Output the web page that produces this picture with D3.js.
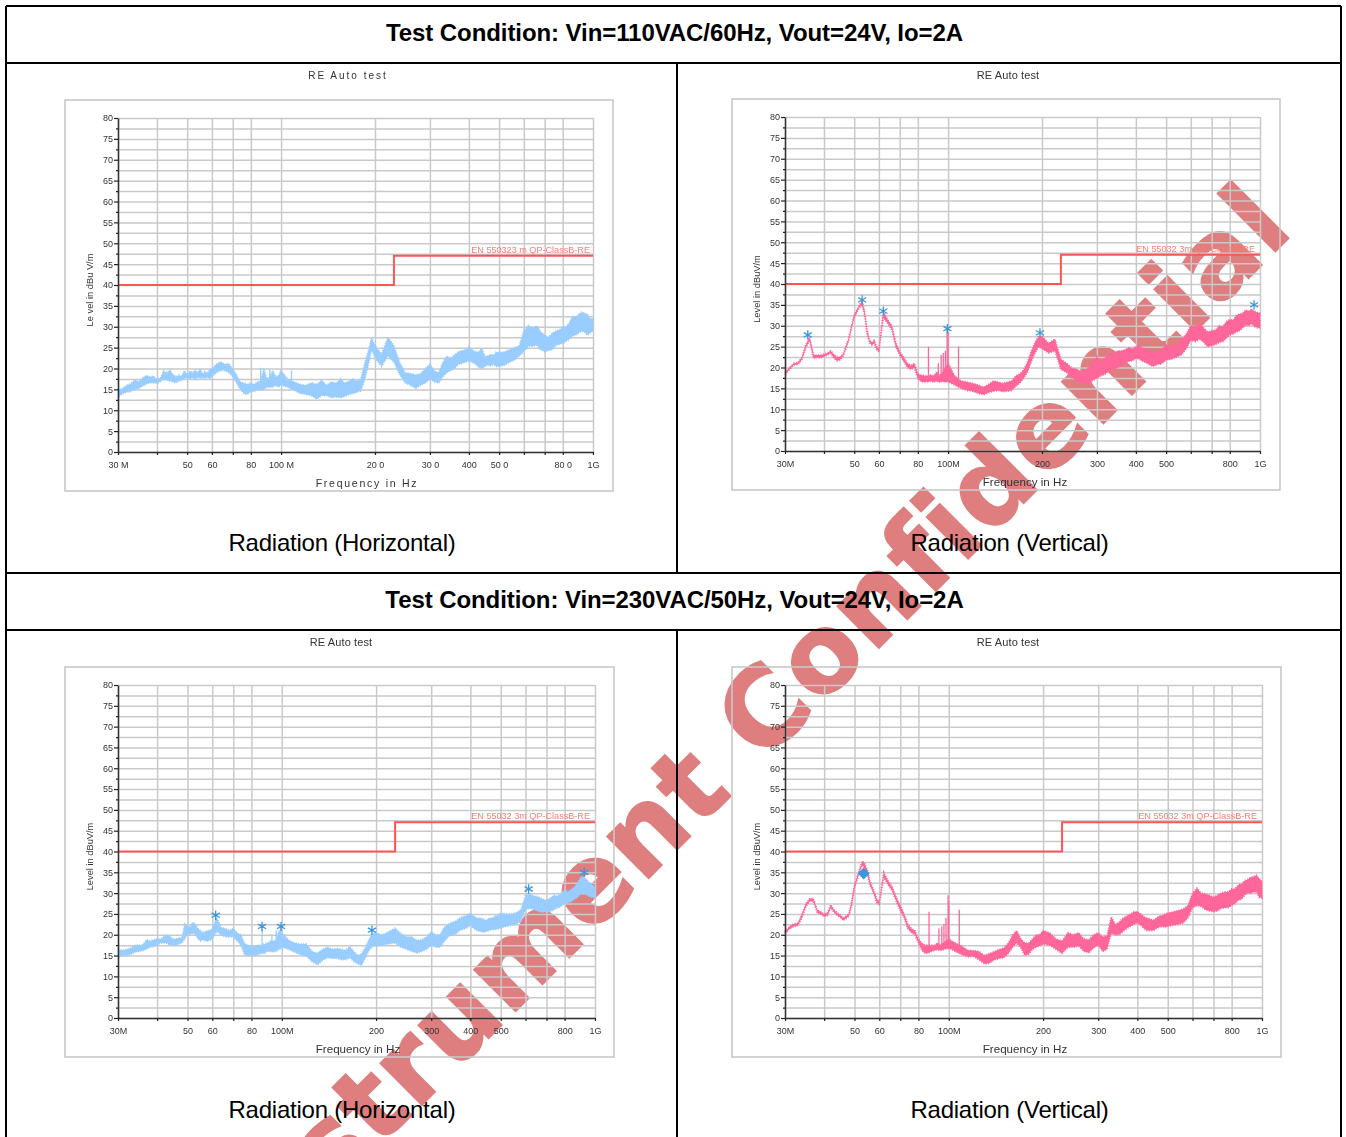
<!DOCTYPE html>
<html>
<head>
<meta charset="utf-8">
<script src="https://d3js.org/d3.v7.min.js"></script>
<style>
  html, body {margin: 0; padding: 0; background: #fff;}
  svg {display: block;}
  text {font-family: "Liberation Sans", Arial, sans-serif;}
  .heading {font-size: 24px; font-weight: bold; letter-spacing: -0.08px; text-anchor: middle;}
  .caption {font-size: 24px; letter-spacing: -0.23px; text-anchor: middle;}
  .watermark {font-family: "DejaVu Sans"; font-size: 108px; font-weight: bold; letter-spacing: 1.2px; fill: #de7e7e; stroke: #de7e7e; stroke-width: 1.5px; text-anchor: end;}
  .axis text {font-size: 9px; fill: #333;}
  .axis .domain {stroke: #333; stroke-width: 1.5;}
  .axis line {stroke: #222; stroke-width: 1.2;}
  .grid .domain {display: none;}
  .grid line {stroke: #c9c9c9; stroke-width: 1.5;}
  .panel {filter: blur(0.3px);}
</style>
</head>
<body>
<svg id="chart" width="1346" height="1137"></svg>

<script>
// frequency grid shared by the four sweeps (MHz)
var freq = [
  30,31,32,33,34,35,36,37,38,39,40,41,42,43,44,45,46,47,48,49,50,51,52,53,54,55,56,57,58,59,60,
  62,64,66,68,70,72,74,76,78,80,82,84,86,88,90,92,94,96,98,
  100,105,110,115,120,125,130,135,140,145,150,155,160,165,170,175,180,185,190,195,
  200,210,220,230,240,250,260,270,280,290,300,310,320,330,340,350,360,370,380,390,400,410,420,430,440,450,460,470,480,490,
  500,520,540,560,580,600,620,640,660,680,700,720,740,760,780,800,820,840,860,880,900,920,940,960,980,1000
];

// Vin=110VAC horizontal
var h110Hi = [
  15,15.2,16,16.4,17.3,16.8,17.8,18.3,18,18.2,17.4,17.8,19.4,19,19.6,18.6,18,18.4,18.2,19.5,18.5,19.4,19,19.6,19,20,18.7,19.3,18.8,19.8,20,
  21,21.6,21,21.2,19.8,18.5,16.8,16.5,16.2,16.6,16.2,16.8,17,20,17.5,18,19.5,18,18.2,
  19.5,17.5,16.8,16.2,16,16.6,16.2,17.2,16,16.8,16.5,17.5,16.5,17,17.5,17,17.5,21,24,27.5,
  25.5,23.5,27.5,25.5,21.5,19,18.8,18.5,18.8,20,21,19.5,19,21.5,23,22.5,23.3,24,24.3,24.5,25.2,24.5,24,24,24.8,23,23,23.4,23.2,24,
  23.8,24,24.5,25,25.5,29,30.3,29.8,30.2,28.8,28,27.5,28.5,29,29.3,30,30,31,32.5,32.3,33,33.5,33.3,33,32,32
];
var h110Lo = [
  13,14,14.3,14.5,15,15.2,15.8,16.3,16.6,16.5,16.5,16.8,17.4,17.2,17,16.8,16.6,17,17.2,17.6,17.8,17.5,17.8,17.4,17.9,17.6,17.8,17.6,17.9,17.5,18,
  19,19.5,19.5,19,18,16.5,15,14,13.8,14.5,14.5,15,14.8,15,15.5,15.5,15.5,16,15.5,
  16,15.5,14.8,14,13.8,13.5,12.7,13.5,13.5,13,13.2,13,13.3,13.8,14,14.3,14.6,17,20.5,24.5,
  22.5,20.5,23,21.5,18.5,16.5,16,15.2,16,16.5,17.5,16.8,16.5,18,19,19.5,20,21,21.2,21.5,21.8,21.5,21,20.3,20,20.5,20.8,20.6,21,20.5,
  20.5,20.8,21.5,22,23,24,25.3,25.3,25.6,24.5,24,24.3,24.5,25.5,25.8,26,26.5,27,27.8,28,28.5,29,28.7,28,28.5,29
];

// Vin=110VAC vertical
var v110Hi = [
  18.8,20,21,21.2,22.5,25.5,27.2,23,23,23,23.2,23.5,24,23.2,22.5,22.5,23.2,25,27,30,32.5,33.8,35,36,33.5,29,26.5,26,26.5,25,24.3,
  33.5,31.5,30,26,23.8,22.5,21,20.5,21,18.5,18.2,18,18,18.2,18,19,18,19,20,
  21,18,16.8,16.5,16.2,15.8,15.3,16,16.8,16.5,16.2,16.5,16.8,18,18.5,19.5,21.5,24,26,27.5,
  27.5,25.8,26.8,22,21,19.8,19.5,18.8,19.8,20.8,22.6,21,22.5,23.4,23,24,24,24.3,24.8,24.5,25,25.3,24.6,24.5,24.2,23.5,23.5,24,24,24.8,
  25.4,25,25.5,26.5,28,30,29.8,30.5,29.5,28.5,28.8,29,30,29.8,31,31.5,31.3,32.5,32.8,33,33.8,33.5,34,33.5,33.2,33
];
var v110Lo = [
  18.2,19.5,20.6,20.7,21.9,24.8,26.5,22.2,22.4,22.3,22.6,23,23.4,22.3,21.6,21.8,22.6,24.4,26.4,29.4,31.9,33.2,34.4,35,32.5,28,25.9,25.4,25.8,24.3,23.7,
  32,30.6,29,25,23,21.5,20,19.5,20,17.3,16.6,16.5,16.6,16.7,16.5,16.7,16.5,16.7,16.7,
  16.5,15.8,15,14.5,14.3,13.8,13.5,14,14.3,14.5,14.2,14.3,14.5,15.5,16.3,17.5,19,21.5,23.5,25,
  24.5,23.5,24,19.5,18.8,17.5,16.8,16,16.2,16.8,17.5,18,18.5,19.4,19.5,20,20.6,21,21.5,21.6,22.2,22,21.5,21.2,20.8,20.3,20.4,20.8,20.8,21.2,
  21.8,22,22.5,23,24.5,26.5,26.2,26.8,26,25,25.2,25.5,26,26.2,27,27.8,28,28.5,28.8,29.5,30.2,30,30.5,29.8,29.5,29.5
];

// Vin=230VAC horizontal
var h230Hi = [
  16.5,16.3,16.5,16.8,17.5,17.5,17.6,18.8,18.5,18.8,19,19,19.5,20,19.6,19,19,19.3,19.2,22.5,22,21.8,23,22.5,21.5,21,20.5,20.8,21,21,21.5,
  24.2,21.8,21.5,21,21.5,20.5,20,18,17.5,17.3,17.2,17.5,17.5,17.8,18,18.5,18.5,18.8,21,
  20.5,18.8,18,17.8,17.8,16,15.6,16.5,17,16.5,16.7,16.5,16.3,17.2,16,15,15.5,17,19,20.3,
  20.5,20,20.8,21.6,20.3,19.5,19.5,18.7,18.8,19.5,20.7,20,20,21.8,22.5,23,23.3,24,24.4,24.6,25.2,24.5,24,24,23.8,23.5,24,24,24.5,24.6,
  25.2,25,25,25.3,26,29.5,29.8,29.3,29.1,28.6,28.3,28.8,29.5,29.3,30,30.8,30.3,31,31.5,32.5,33.8,34,33.3,32.5,32,31.5
];
var h230Lo = [
  14.5,15,15,15.3,15.8,16,16.2,16.5,17,17.2,17.5,18,18,18,17.5,17.6,17.5,17.8,18,19,20.2,20,20.5,20,19,18.5,18.8,18.5,18.5,18.6,19,
  20.8,20,19.5,19.5,19.5,18.5,17.5,15.2,15,15,15,15.2,15.5,15.5,16,16,15.8,16,16.5,
  17,16.5,15.8,15.2,14.8,13.5,12.8,13.8,14.5,14.3,14.3,14,14,14.5,13.5,13,12.7,14.5,16.2,17.2,
  17.3,17.5,17.8,18,17,16.5,16,15.6,16,16.5,17.5,17,17,18.3,19.5,20,20.2,21,21.3,21.6,22.3,21.5,21,20.8,20.6,20.8,21,21.2,21.2,21.4,
  21.6,22,22.2,22.6,23.2,26,26.3,26,25.6,25.4,25.5,25.5,26,26.5,26.8,27.6,27.6,28,28.5,29,29.8,30,29.6,29.2,29,28.8
];

// Vin=230VAC vertical
var v230Hi = [
  20.8,22,22.6,22.8,25,27.5,28.7,28.7,26,25.5,25,25.3,27.2,26,25.3,24.8,24,24.5,25,28,32,34,36,37.7,37,35.5,33,31.5,30,28.5,28,
  35,33,31.5,29,27,25,22.5,21.5,21,19,18,17.5,17.5,17.5,17.5,18,17.5,18,18.5,
  19,18,17.3,16.3,16.2,16,15,15.5,16,16.5,16.8,18,20,21,19,18,18,19,20,20,
  21,20.5,19,18.5,20.5,20,20.5,19,18.8,20,20.5,19.5,19.7,24.3,22.5,23,24,24.5,25,25.5,25.5,25,24.3,24,23.8,23.5,24,24.5,24.6,25,
  25.2,25.5,25.8,26.2,27,30,31.2,30,29.8,29.5,29,29.5,30,30.3,30.3,31,31,32,32.2,33,33.3,33.8,34,34.3,33.5,32.8
];
var v230Lo = [
  20.2,21.4,22,22.2,24.2,26.8,28.1,28,25.3,24.9,24.4,24.6,26.5,25.4,24.7,24.2,23.4,23.9,24.5,27.2,31.3,33.3,35.3,36.8,35.8,34.4,32,30.7,29.2,27.6,27.3,
  33.8,32,30.6,28,25.8,24,21.5,20.5,20,18,16.3,15.5,15.6,16,16.2,16.4,16.2,16.4,16.7,
  16.8,16,15.2,14.7,14.8,14,13,13.2,14,14.3,14.5,15.5,17,18,16.8,15,15.3,16.5,17,17.3,
  17.8,17.5,16.5,15.5,17,17,17.3,16,15.7,16.8,17.5,16,16.5,20.3,20,20,20.8,21.5,22,22.5,22.8,22.3,21.5,21,21,21,21.5,21.8,22,21.8,
  22,22.3,22.5,22.8,24,26.5,27,26.8,26,25.7,25.5,25.7,26.3,26.5,26.5,27,27.5,28.3,28.5,29.5,30,30,30.3,30.3,29,28.8
];

// narrow spikes above the sweep
var h110SpikeF = [86, 92, 108], h110SpikeL = [20.2, 19.8, 19.5];
var v110SpikeF = [86.5, 93, 95, 96.5, 98, 99.3, 100, 108], v110SpikeL = [25, 21, 23, 23.5, 24, 29, 28.5, 25];
var h230SpikeF = [86.5, 93, 96, 99], h230SpikeL = [21.5, 20, 21, 22];
var v230SpikeF = [86.5, 93, 95, 96.5, 98, 99.5, 100, 108], v230SpikeL = [25.5, 21.5, 22, 22.5, 24, 29.5, 28, 26];

// final measurement markers
var v110StarF = [35.5, 53, 62, 99.5, 197, 957], v110StarL = [27.8, 36.2, 33.5, 29.3, 28.3, 35];
var h230StarF = [61.5, 86.5, 99.5, 194, 614, 924], h230StarL = [24.7, 22, 22, 21.1, 31, 35];
var v230StarF = [53.5], v230StarL = [34.7];

// limit line
var limitF = [30, 230, 230, 1000], limitL = [40, 40, 47, 47];

// axis ticks
var xGrid = [30, 40, 50, 60, 70, 80, 100, 200, 300, 400, 500, 600, 700, 800, 1000];
var xLabelled = {30: "30M", 50: "50", 60: "60", 80: "80", 100: "100M", 200: "200", 300: "300", 400: "400", 500: "500", 800: "800", 1000: "1G"};
var xLabelledWide = {30: "30 M", 50: "50", 60: "60", 80: "80", 100: "100 M", 200: "20 0", 300: "30 0", 400: "400", 500: "50 0", 800: "80 0", 1000: "1G"};
var yTicks = d3.range(0, 80.1, 2.5);

var svg = d3.select("#chart");

// the stamp sits under the scanned table
svg.append("text").attr("class", "watermark")
    .attr("transform", "translate(1296,231) rotate(-45)")
    .text("Instrument Confidential");

//table rules
var rules = [[6,6,1341,6],[6,63,1341,63],[6,573,1341,573],[6,630,1341,630],[6,6,6,1137],[1341,6,1341,1137],[677,63,677,573],[677,630,677,1137]];
svg.append("g").selectAll("line").data(rules).enter().append("line")
    .attr("x1", function(d) { return d[0]; }).attr("y1", function(d) { return d[1]; })
    .attr("x2", function(d) { return d[2]; }).attr("y2", function(d) { return d[3]; })
    .attr("stroke", "#000").attr("stroke-width", 2);

svg.append("text").attr("class", "heading").attr("x", 674.5).attr("y", 41).text("Test Condition: Vin=110VAC/60Hz, Vout=24V, Io=2A");
svg.append("text").attr("class", "heading").attr("x", 674.5).attr("y", 608).text("Test Condition: Vin=230VAC/50Hz, Vout=24V, Io=2A");

function drawPanel(p) {
    var x = d3.scaleLog().domain([30, 1000]).range([p.left, p.right]);
    var y = d3.scaleLinear().domain([0, 80]).range([p.bottom, p.top]);
    var g = svg.append("g").attr("class", "panel");

    // frame
    g.append("rect").attr("x", p.frame[0]).attr("y", p.frame[1]).attr("width", p.frame[2]).attr("height", p.frame[3])
        .attr("fill", "none").attr("stroke", "#c8c8c8").attr("stroke-width", 1.6);

    // grid
    g.append("g").attr("class", "grid").attr("transform", "translate(0," + p.top + ")")
        .call(d3.axisBottom(x).tickValues(xGrid).tickSize(p.bottom - p.top).tickFormat(""));
    g.append("g").attr("class", "grid").attr("transform", "translate(" + p.left + ",0)")
        .call(d3.axisRight(y).tickValues(yTicks).tickSize(p.right - p.left).tickFormat(""));

    // limit
    var limit = d3.line().x(function(d) { return x(d[0]); }).y(function(d) { return y(d[1]); });
    g.append("path").datum(d3.zip(limitF, limitL)).attr("d", limit)
        .attr("fill", "none").attr("stroke", "#ff5555").attr("stroke-width", 2);
    g.append("text").attr("x", p.right - (p.wide ? 3 : 5)).attr("y", y(47) - 3).attr("text-anchor", "end")
        .attr("font-size", 9.1).attr("fill", "#ff7a7a")
        .text(p.limitLabel);

    // sweep, the dashed outline roughens the edge of the band
    var band = d3.area().x(function(d) { return x(d[0]); }).y0(function(d) { return y(d[1]); }).y1(function(d) { return y(d[2]); });
    g.append("path").datum(d3.zip(freq, p.lo, p.hi)).attr("d", band).attr("fill", p.color);
    g.append("path").datum(d3.zip(freq, p.lo, p.hi)).attr("d", band)
        .attr("fill", "none").attr("stroke", p.color).attr("stroke-width", 1.7).attr("stroke-dasharray", "1 1.5");
    g.append("g").selectAll("line").data(d3.zip(p.spikeF, p.spikeL)).enter().append("line")
        .attr("x1", function(d) { return x(d[0]); }).attr("x2", function(d) { return x(d[0]); })
        .attr("y1", y(16.5)).attr("y2", function(d) { return y(d[1]); })
        .attr("stroke", p.color).attr("stroke-width", 1.3);

    // markers
    var marker = d3.symbol().type(p.diamond ? d3.symbolDiamond2 : d3.symbolAsterisk).size(p.diamond ? 65 : 62);
    g.append("g").selectAll("path").data(d3.zip(p.starF, p.starL)).enter().append("path")
        .attr("d", marker)
        .attr("transform", function(d) { return "translate(" + x(d[0]) + "," + y(d[1]) + ")"; })
        .attr("fill", "#3b97dc").attr("stroke", "#3b97dc").attr("stroke-width", 1.3);

    // axes
    var labels = p.wide ? xLabelledWide : xLabelled;
    g.append("g").attr("class", "axis").attr("transform", "translate(0," + p.bottom + ")")
        .call(d3.axisBottom(x).tickValues(xGrid).tickSize(3).tickPadding(7).tickSizeOuter(0)
            .tickFormat(function(d) { return labels[d] || ""; }));
    var yAxis = g.append("g").attr("class", "axis").attr("transform", "translate(" + p.left + ",0)")
        .call(d3.axisLeft(y).tickValues(yTicks).tickSize(3).tickPadding(2).tickSizeOuter(0)
            .tickFormat(function(d) { return d % 5 === 0 ? d : ""; }));
    yAxis.selectAll(".tick line").attr("x2", function(d) { return d % 5 === 0 ? -4 : -2; });

    // titles
    g.append("text").attr("x", p.titleX).attr("y", p.titleY).attr("text-anchor", "middle")
        .attr("font-size", p.wide ? 10 : 11).attr("fill", "#333").style("letter-spacing", p.wide ? "2px" : "0.1px").text("RE Auto test");
    g.append("text").attr("x", p.xLabelX).attr("y", p.bottom + 34.5).attr("text-anchor", "middle")
        .attr("font-size", p.wide ? 10.5 : 11.6).attr("fill", "#333").style("letter-spacing", p.wide ? "1.75px" : "0").text("Frequency in Hz");
    g.append("text").attr("transform", "translate(" + (p.left - 25) + "," + ((p.top + p.bottom) / 2 + 5) + ") rotate(-90)")
        .attr("text-anchor", "middle").attr("font-size", 9.3).attr("fill", "#333")
        .text(p.wide ? "Le vel in dBu V/m" : "Level in dBuV/m");
    svg.append("text").attr("class", "caption").attr("x", p.captionX).attr("y", p.captionY).text(p.caption);
}

drawPanel({left: 118, right: 593, top: 118, bottom: 452, frame: [65, 100, 548, 391], color: "#99ccff", wide: true,
    hi: h110Hi, lo: h110Lo, spikeF: h110SpikeF, spikeL: h110SpikeL, starF: [], starL: [],
    limitLabel: "EN 550323 m QP-ClassB-RE", titleX: 348, titleY: 79, xLabelX: 367, captionX: 342, captionY: 551, caption: "Radiation (Horizontal)"});
drawPanel({left: 785, right: 1260, top: 117, bottom: 451, frame: [732, 99, 548, 391], color: "#ff6699",
    hi: v110Hi, lo: v110Lo, spikeF: v110SpikeF, spikeL: v110SpikeL, starF: v110StarF, starL: v110StarL,
    limitLabel: "EN 55032 3m QP-ClassB-RE", titleX: 1008, titleY: 79, xLabelX: 1025, captionX: 1009.5, captionY: 551, caption: "Radiation (Vertical)"});
drawPanel({left: 118, right: 595, top: 685, bottom: 1018, frame: [65, 667, 549, 390], color: "#99ccff",
    hi: h230Hi, lo: h230Lo, spikeF: h230SpikeF, spikeL: h230SpikeL, starF: h230StarF, starL: h230StarL,
    limitLabel: "EN 55032 3m QP-ClassB-RE", titleX: 341, titleY: 646, xLabelX: 358, captionX: 342, captionY: 1118, caption: "Radiation (Horizontal)"});
drawPanel({left: 785, right: 1262, top: 685, bottom: 1018, frame: [732, 667, 549, 390], color: "#ff6699", diamond: true,
    hi: v230Hi, lo: v230Lo, spikeF: v230SpikeF, spikeL: v230SpikeL, starF: v230StarF, starL: v230StarL,
    limitLabel: "EN 55032 3m QP-ClassB-RE", titleX: 1008, titleY: 646, xLabelX: 1025, captionX: 1009.5, captionY: 1118, caption: "Radiation (Vertical)"});
</script>
</body>
</html>
